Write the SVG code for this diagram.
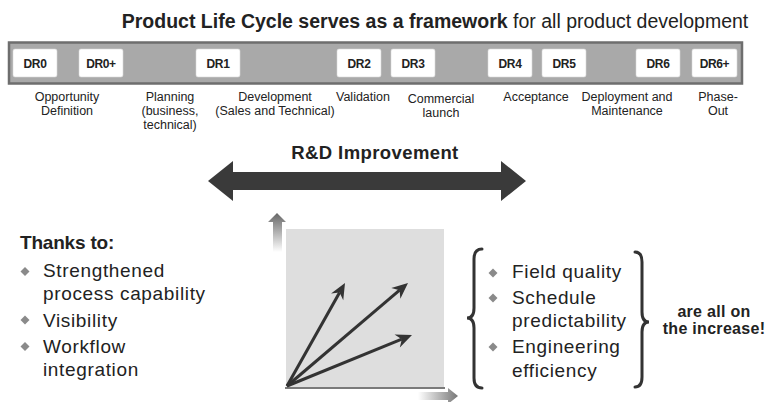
<svg xmlns="http://www.w3.org/2000/svg" width="769" height="402" viewBox="0 0 769 402">
<defs>
<style>
text{font-family:"Liberation Sans",Arial,sans-serif;fill:#222}
.t{font-size:19.5px}
.b{font-weight:bold}
.dr{font-size:12px;font-weight:bold;text-anchor:middle;letter-spacing:-0.4px}
.lab{font-size:12.5px;text-anchor:middle}
.box{fill:#fff;stroke:#d8d8d8;stroke-width:0.6}
.blt{font-size:19px;letter-spacing:0.65px}
.dia{fill:#8a8a8a}
.brace{fill:none;stroke:#333;stroke-width:3;stroke-linecap:round}
.arr{stroke:#333;stroke-width:3;fill:none}
.head{fill:#333}
</style>
<linearGradient id="gUp" x1="0" y1="0" x2="0" y2="1">
<stop offset="0" stop-color="#666"/>
<stop offset="1" stop-color="#fff"/>
</linearGradient>
<linearGradient id="gRight" x1="0" y1="0" x2="1" y2="0">
<stop offset="0" stop-color="#fff"/>
<stop offset="1" stop-color="#777"/>
</linearGradient>
</defs>
<rect width="769" height="402" fill="#fff"/>

<g id="title">
<text class="t" x="435" y="28" text-anchor="middle"><tspan class="b">Product Life Cycle serves as a framework</tspan> for all product development</text>
</g>

<g id="lifecycle-bar">
<rect x="9" y="42.5" width="733" height="41" fill="#a9a9a9" stroke="#6e6e6e" stroke-width="2.5"/>
</g>
<g id="dr0"><rect class="box" x="13" y="49" width="44" height="28" rx="2"/><text class="dr" x="35" y="68">DR0</text></g>
<g id="dr0plus"><rect class="box" x="79" y="49" width="44" height="28" rx="2"/><text class="dr" x="101" y="68">DR0+</text></g>
<g id="dr1"><rect class="box" x="196" y="49" width="44" height="28" rx="2"/><text class="dr" x="218" y="68">DR1</text></g>
<g id="dr2"><rect class="box" x="337" y="49" width="44" height="28" rx="2"/><text class="dr" x="359" y="68">DR2</text></g>
<g id="dr3"><rect class="box" x="391" y="49" width="44" height="28" rx="2"/><text class="dr" x="413" y="68">DR3</text></g>
<g id="dr4"><rect class="box" x="488" y="49" width="44" height="28" rx="2"/><text class="dr" x="510" y="68">DR4</text></g>
<g id="dr5"><rect class="box" x="542" y="49" width="44" height="28" rx="2"/><text class="dr" x="564" y="68">DR5</text></g>
<g id="dr6"><rect class="box" x="636" y="49" width="44" height="28" rx="2"/><text class="dr" x="658" y="68">DR6</text></g>
<g id="dr6plus"><rect class="box" x="692" y="49" width="45" height="28" rx="2"/><text class="dr" x="714.5" y="68">DR6+</text></g>

<g id="phase-labels">
<text class="lab" x="67" y="101">Opportunity</text>
<text class="lab" x="67" y="115">Definition</text>
<text class="lab" x="170" y="101">Planning</text>
<text class="lab" x="170" y="115">(business,</text>
<text class="lab" x="170" y="129">technical)</text>
<text class="lab" x="275" y="101">Development</text>
<text class="lab" x="275" y="115">(Sales and Technical)</text>
<text class="lab" x="363" y="101">Validation</text>
<text class="lab" x="441" y="103">Commercial</text>
<text class="lab" x="441" y="117">launch</text>
<text class="lab" x="536" y="101">Acceptance</text>
<text class="lab" x="627" y="101">Deployment and</text>
<text class="lab" x="627" y="115">Maintenance</text>
<text class="lab" x="718" y="101">Phase-</text>
<text class="lab" x="718" y="115">Out</text>
</g>

<g id="rd-improvement">
<text x="375" y="159" font-size="18.5" font-weight="bold" text-anchor="middle" letter-spacing="0.4">R&amp;D Improvement</text>
<polygon points="208,181 233,161 233,172 501,172 501,161 526,181 501,201 501,190 233,190 233,201" fill="#3a3a3a"/>
</g>

<g id="thanks-to">
<text x="20" y="249" font-size="19" font-weight="bold" letter-spacing="-0.2">Thanks to:</text>
<polygon class="dia" points="25,267 29.5,271.5 25,276 20.5,271.5"/>
<text class="blt" x="43" y="277">Strengthened</text>
<text class="blt" x="43" y="300">process capability</text>
<polygon class="dia" points="25,315.5 29.5,320 25,324.5 20.5,320"/>
<text class="blt" x="43" y="327">Visibility</text>
<polygon class="dia" points="25,342 29.5,346.5 25,351 20.5,346.5"/>
<text class="blt" x="43" y="353">Workflow</text>
<text class="blt" x="43" y="376">integration</text>
</g>

<g id="chart">
<rect x="286" y="229" width="158" height="159" fill="#dedede"/>
<line x1="285" y1="388" x2="445" y2="388" stroke="#7a7a7a" stroke-width="2"/>
<polygon points="277,213 286,222 282,222 282,252 273,252 273,222 268,222" fill="url(#gUp)"/>
<polygon points="418,392 448,392 448,388 458,396 448,404 448,400 418,400" fill="url(#gRight)"/>
</g>

<g id="connectors">
<line class="arr" x1="287" y1="386" x2="339.6" y2="292.6"/>
<polygon class="head" points="345,283 343.25,300.37 339.6,292.59 331.05,293.51"/>
<line class="arr" x1="287" y1="386" x2="399.6" y2="290.1"/>
<polygon class="head" points="408,283 400.36,298.7 399.62,290.13 391.28,288.04"/>
<line class="arr" x1="287" y1="386" x2="401.8" y2="339.2"/>
<polygon class="head" points="412,335 399.83,347.52 401.82,339.16 394.55,334.56"/>
</g>

<g id="results">
<path class="brace" d="M482,249 Q474,249 474,259 L474,308 Q474,318 467,318 Q474,318 474,328 L474,378 Q474,388 482,388"/>
<polygon class="dia" points="493,268.5 497.5,273 493,277.5 488.5,273"/>
<text class="blt" x="512" y="278">Field quality</text>
<polygon class="dia" points="493,293.5 497.5,298 493,302.5 488.5,298"/>
<text class="blt" x="512" y="304">Schedule</text>
<text class="blt" x="512" y="327">predictability</text>
<polygon class="dia" points="493,342.5 497.5,347 493,351.5 488.5,347"/>
<text class="blt" x="512" y="353">Engineering</text>
<text class="blt" x="512" y="377">efficiency</text>
<path class="brace" d="M635,252 Q642,252 642,262 L642,312 Q642,322 649,322 Q642,322 642,332 L642,377 Q642,387 635,387"/>
</g>

<g id="conclusion">
<text x="714" y="317" font-size="16" font-weight="bold" text-anchor="middle" letter-spacing="0.3">are all on</text>
<text x="714" y="334" font-size="16" font-weight="bold" text-anchor="middle" letter-spacing="0.3">the increase!</text>
</g>
</svg>
